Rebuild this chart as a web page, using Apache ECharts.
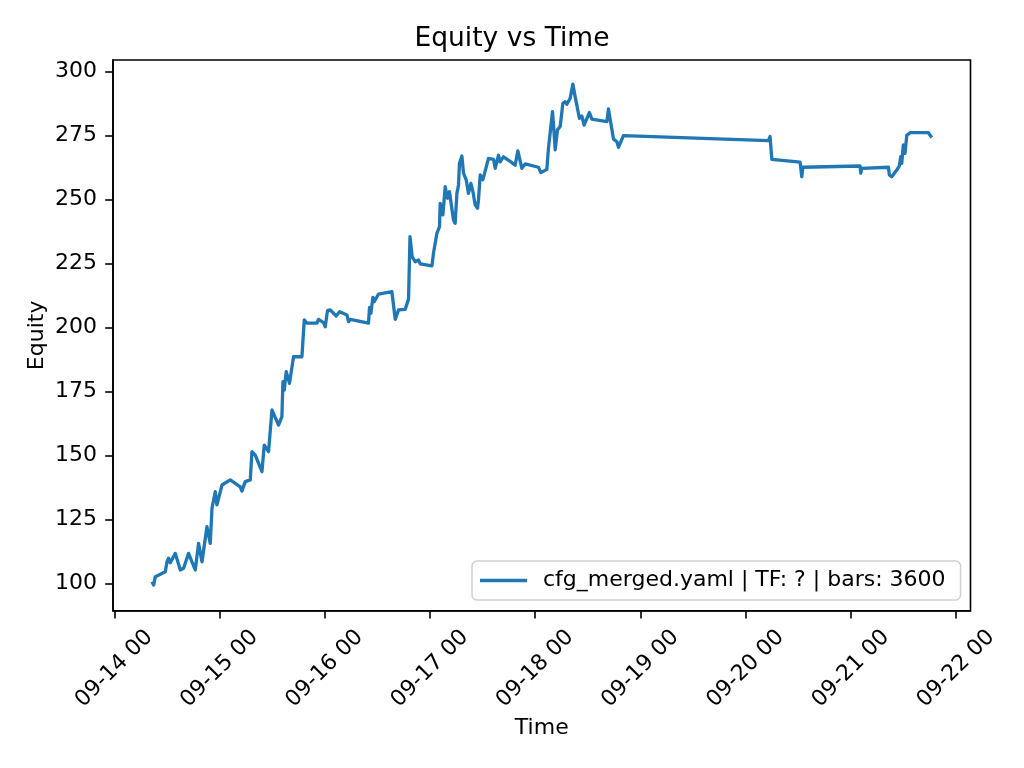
<!DOCTYPE html>
<html>
<head>
<meta charset="utf-8">
<script src="https://cdn.jsdelivr.net/npm/echarts@6/dist/echarts.min.js"></script>
<style>
html,body{margin:0;padding:0;background:#fff;}
#chart{width:1024px;height:768px;}
</style>
</head>
<body>
<div id="chart"></div>
<script>
// Data
const seriesName = 'cfg_merged.yaml | TF: ? | bars: 3600';
const times = [
  '09-14 08:36','09-14 08:58','09-14 09:21','09-14 11:38','09-14 12:01','09-14 12:23','09-14 12:46','09-14 13:55',
  '09-14 15:03','09-14 15:48','09-14 16:57','09-14 17:43','09-14 18:28','09-14 19:13','09-14 20:00','09-14 21:08',
  '09-14 21:53','09-14 22:17','09-14 23:02','09-14 23:25','09-15 00:34','09-15 02:27','09-15 04:44','09-15 05:07',
  '09-15 05:52','09-15 07:01','09-15 07:24','09-15 08:09','09-15 09:41','09-15 10:12','09-15 11:11','09-15 11:58',
  '09-15 13:28','09-15 14:14','09-15 14:28','09-15 14:46','09-15 15:13','09-15 15:58','09-15 16:53','09-15 18:48',
  '09-15 19:20','09-15 19:57','09-15 22:13','09-15 22:35','09-15 23:44','09-16 00:07','09-16 00:38','09-16 01:15',
  '09-16 02:37','09-16 03:23','09-16 05:04','09-16 05:26','09-16 05:49','09-16 09:59','09-16 10:13','09-16 10:32',
  '09-16 10:59','09-16 11:17','09-16 12:16','09-16 15:19','09-16 15:41','09-16 16:05','09-16 16:50','09-16 18:21',
  '09-16 19:07','09-16 19:27','09-16 19:57','09-16 20:38','09-16 21:23','09-16 21:47','09-17 00:27','09-17 00:49',
  '09-17 01:35','09-17 02:11','09-17 02:20','09-17 02:57','09-17 03:29','09-17 04:00','09-17 04:27','09-17 05:22',
  '09-17 05:45','09-17 06:09','09-17 06:31','09-17 06:44','09-17 07:17','09-17 07:39','09-17 08:16','09-17 08:47',
  '09-17 09:20','09-17 09:48','09-17 10:19','09-17 10:51','09-17 11:04','09-17 11:28','09-17 12:04','09-17 13:21',
  '09-17 14:30','09-17 14:53','09-17 15:38','09-17 16:01','09-17 16:46','09-17 18:28','09-17 19:26','09-17 19:50',
  '09-17 20:03','09-17 20:58','09-17 21:43','09-18 00:45','09-18 01:18','09-18 02:40','09-18 03:02','09-18 03:57',
  '09-18 04:10','09-18 04:34','09-18 05:05','09-18 05:42','09-18 06:19','09-18 06:50','09-18 07:14','09-18 07:59',
  '09-18 08:36','09-18 09:07','09-18 10:06','09-18 10:39','09-18 11:10','09-18 12:23','09-18 12:56','09-18 16:21',
  '09-18 16:43','09-18 17:51','09-18 18:38','09-18 19:00','09-18 20:08','09-20 05:12','09-20 05:35','09-20 05:59',
  '09-20 12:26','09-20 12:49','09-20 13:03','09-21 02:07','09-21 02:16','09-21 02:30','09-21 08:34','09-21 08:48',
  '09-21 09:20','09-21 10:29','09-21 11:04','09-21 11:23','09-21 11:37','09-21 11:59','09-21 12:22','09-21 12:46',
  '09-21 13:31','09-21 17:41','09-21 18:28'
];
const equity = [
  100.6, 99.3, 102.6, 104.5, 108.4, 109.8, 108.0, 111.7,
  105.2, 105.9, 111.7, 108.4, 105.2, 115.6, 108.4, 122.1,
  115.6, 129.3, 135.8, 130.6, 138.4, 140.4, 137.7, 136.0,
  139.7, 140.4, 151.4, 150.1, 143.6, 154.0, 151.4, 167.7,
  161.8, 165.1, 178.8, 175.5, 182.7, 178.1, 188.5, 188.5,
  202.9, 201.6, 201.6, 203.1, 201.8, 200.2, 206.5, 206.8,
  204.4, 206.1, 204.8, 202.2, 203.1, 201.6, 207.8, 205.5,
  211.7, 210.0, 213.0, 213.9, 208.7, 203.1, 206.8, 207.0,
  211.0, 235.4, 227.5, 225.6, 226.3, 224.8, 224.0, 229.0,
  236.7, 239.3, 248.4, 243.9, 254.9, 250.4, 253.0, 241.9,
  240.6, 252.3, 255.6, 264.0, 266.9, 260.2, 257.6, 252.3,
  256.2, 253.0, 247.8, 246.5, 249.7, 259.5, 257.6, 266.0,
  265.6, 262.1, 267.2, 264.6, 266.6, 264.6, 263.3, 262.6,
  268.9, 262.1, 263.8, 262.5, 260.4, 261.7, 269.9, 284.2,
  279.7, 269.3, 277.1, 278.4, 287.5, 288.1, 287.1, 289.4,
  295.0, 290.1, 281.6, 282.5, 279.0, 283.9, 281.3, 280.3,
  285.3, 273.6, 272.5, 270.3, 274.9, 272.9, 274.5, 265.6,
  264.5, 258.8, 262.5, 263.0, 260.2, 262.1, 262.5, 259.5,
  258.8, 261.4, 263.0, 266.6, 264.0, 271.2, 267.9, 275.0,
  276.0, 276.0, 274.1
];
const xTickLabels = ['09-14 00','09-15 00','09-16 00','09-17 00','09-18 00','09-19 00','09-20 00','09-21 00','09-22 00'];
const yTickValues = [100, 125, 150, 175, 200, 225, 250, 275, 300];

// hours since 09-14 00:00 ("MM-DD HH" or "MM-DD HH:MM")
function toHours(s) {
  const day = parseInt(s.slice(3, 5), 10);
  const hh = parseInt(s.slice(6, 8), 10);
  const mm = s.length >= 11 ? parseInt(s.slice(9, 11), 10) : 0;
  return (day - 14) * 24 + hh + mm / 60;
}
const xTickValues = xTickLabels.map(toHours);
const lineData = times.map((t, i) => [toHours(t), equity[i]]);

const FONT = 'DejaVu Sans';
const chart = echarts.init(document.getElementById('chart'), null, {renderer: 'canvas'});
chart.setOption({
  animation: false,
  backgroundColor: '#ffffff',
  title: {
    text: 'Equity vs Time',
    left: 'center',
    top: 21,
    textStyle: {fontFamily: FONT, fontSize: 26.5, fontWeight: 'normal', color: '#000'}
  },
  grid: {
    left: 113, right: 53.5, top: 60, bottom: 157.3,
    show: true, borderColor: '#000', borderWidth: 1.6, backgroundColor: 'transparent'
  },
  legend: {
    data: [seriesName],
    left: 472, top: 561,
    orient: 'horizontal',
    icon: 'rect',
    itemWidth: 47, itemHeight: 3.3,
    padding: [7, 15, 7, 8],
    backgroundColor: 'rgba(255,255,255,0.8)',
    borderColor: '#d0d0d0', borderWidth: 1.5, borderRadius: 5,
    textStyle: {fontFamily: FONT, fontSize: 22, color: '#000', padding: [0, 0, 0, 11], lineHeight: 25}
  },
  xAxis: {
    type: 'value',
    min: -0.296, max: 195.3,
    name: 'Time',
    nameLocation: 'middle',
    nameGap: 107,
    nameMoveOverlap: false,
    nameTextStyle: {fontFamily: FONT, fontSize: 22, color: '#000'},
    splitLine: {show: false},
    axisLine: {show: true, onZero: false, lineStyle: {color: '#000', width: 1.6}},
    axisTick: {show: true, customValues: xTickValues, length: 7.8, inside: false, lineStyle: {color: '#000', width: 1.6}},
    axisLabel: {
      customValues: xTickValues,
      rotate: 45,
      align: 'center',
      verticalAlign: 'middle',
      margin: 58,
      fontFamily: FONT, fontSize: 22, color: '#000',
      formatter: function (v) {
        const idx = xTickValues.findIndex(t => Math.abs(t - v) < 1e-6);
        return idx >= 0 ? xTickLabels[idx] : '';
      }
    }
  },
  yAxis: {
    type: 'value',
    min: 89.3, max: 304.4,
    name: 'Equity',
    nameLocation: 'middle',
    nameGap: 65,
    nameMoveOverlap: false,
    nameTextStyle: {fontFamily: FONT, fontSize: 22, color: '#000'},
    splitLine: {show: false},
    axisLine: {show: true, onZero: false, lineStyle: {color: '#000', width: 1.6}},
    axisTick: {show: true, customValues: yTickValues, length: 7.8, lineStyle: {color: '#000', width: 1.6}},
    axisLabel: {
      customValues: yTickValues,
      margin: 16,
      fontFamily: FONT, fontSize: 22, color: '#000',
      formatter: function (v) { return String(Math.round(v)); }
    }
  },
  series: [{
    name: seriesName,
    type: 'line',
    data: lineData,
    showSymbol: false,
    symbol: 'none',
    lineStyle: {color: '#1f77b4', width: 3.3, join: 'round', cap: 'butt'},
    itemStyle: {color: '#1f77b4'},
    emphasis: {disabled: true}
  }]
});
</script>
</body>
</html>
